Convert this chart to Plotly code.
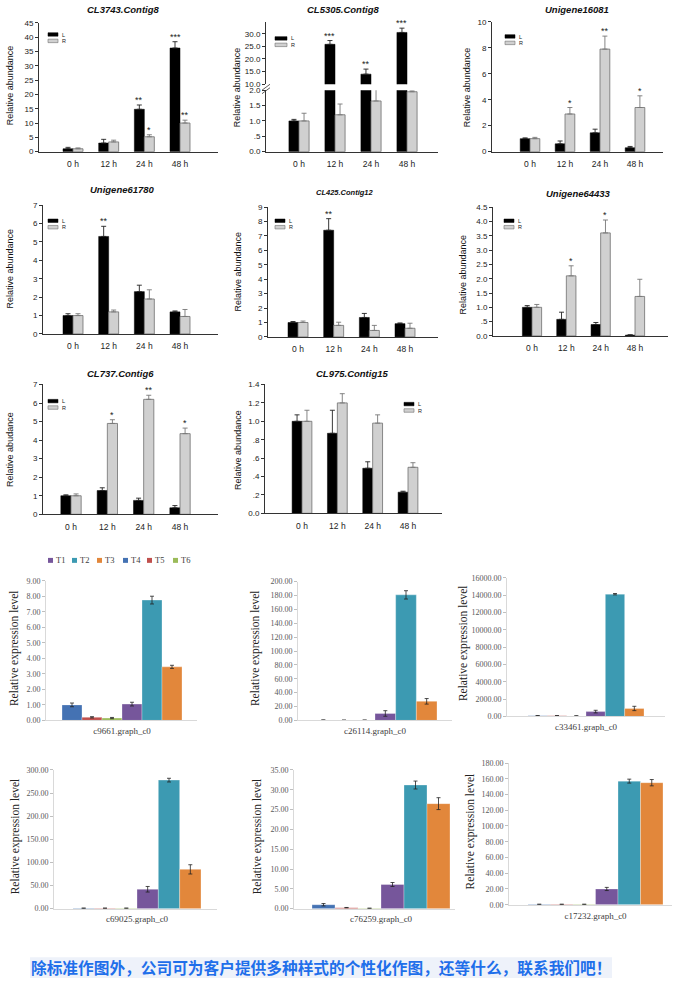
import plotly.graph_objects as go

W, H = 674, 987

# ---------------- data ----------------
time_labels = ["0 h", "12 h", "24 h", "48 h"]

cl3743_L = [1.0, 3.0, 14.8, 36.2]
cl3743_L_err = [0.5, 1.3, 1.5, 2.2]
cl3743_R = [1.0, 3.4, 5.2, 10.0]
cl3743_R_err = [0.3, 0.6, 0.7, 1.0]
cl3743_L_sig = ["", "", "**", "***"]
cl3743_R_sig = ["", "", "*", "**"]

cl5305_L = [1.0, 25.8, 14.0, 30.5]
cl5305_L_err = [0.05, 1.5, 2.0, 1.7]
cl5305_R = [1.0, 1.2, 1.65, 1.95]
cl5305_R_err = [0.25, 0.35, 0.45, 0.03]
cl5305_L_sig = ["", "***", "**", "***"]
cl5305_R_sig = ["", "", "", ""]

u16081_L = [1.0, 0.6, 1.45, 0.3]
u16081_L_err = [0.06, 0.22, 0.28, 0.1]
u16081_R = [1.0, 2.9, 7.9, 3.4]
u16081_R_err = [0.1, 0.5, 1.0, 0.9]
u16081_L_sig = ["", "", "", ""]
u16081_R_sig = ["", "*", "**", "*"]

u61780_L = [1.0, 5.3, 2.3, 1.2]
u61780_L_err = [0.1, 0.55, 0.35, 0.05]
u61780_R = [1.0, 1.2, 1.9, 0.95]
u61780_R_err = [0.1, 0.1, 0.5, 0.38]
u61780_L_sig = ["", "**", "", ""]
u61780_R_sig = ["", "", "", ""]

cl425_L = [1.0, 7.4, 1.35, 0.92]
cl425_L_err = [0.07, 0.8, 0.28, 0.05]
cl425_R = [1.0, 0.8, 0.45, 0.6]
cl425_R_err = [0.1, 0.22, 0.35, 0.35]
cl425_L_sig = ["", "**", "", ""]
cl425_R_sig = ["", "", "", ""]

u64433_L = [1.0, 0.58, 0.4, 0.03]
u64433_L_err = [0.06, 0.25, 0.07, 0.01]
u64433_R = [1.0, 2.1, 3.6, 1.38]
u64433_R_err = [0.1, 0.35, 0.45, 0.6]
u64433_L_sig = ["", "", "", ""]
u64433_R_sig = ["", "*", "*", ""]

cl737_L = [1.0, 1.28, 0.75, 0.35]
cl737_L_err = [0.05, 0.15, 0.12, 0.12]
cl737_R = [1.0, 4.9, 6.2, 4.35]
cl737_R_err = [0.1, 0.2, 0.22, 0.3]
cl737_L_sig = ["", "", "", ""]
cl737_R_sig = ["", "*", "**", "*"]

cl975_L = [1.0, 0.87, 0.49, 0.23]
cl975_L_err = [0.07, 0.25, 0.07, 0.01]
cl975_R = [1.0, 1.2, 0.98, 0.5]
cl975_R_err = [0.12, 0.1, 0.09, 0.05]
cl975_L_sig = ["", "", "", ""]
cl975_R_sig = ["", "", "", ""]

# bottom panels: bars drawn in order T4, T5, T6, T1, T2, T3
draw_order = ["T4", "T5", "T6", "T1", "T2", "T3"]
legend_order = ["T1", "T2", "T3", "T4", "T5", "T6"]

c9661_vals = [1.0, 0.2, 0.15, 1.05, 7.75, 3.45]
c9661_err = [0.12, 0.04, 0.04, 0.12, 0.25, 0.1]
c26114_vals = [0.5, 0.3, 0.4, 10.0, 181.0, 27.5]
c26114_err = [0.2, 0.1, 0.1, 4.0, 6.0, 4.0]
c33461_vals = [80, 80, 60, 560, 14100, 920]
c33461_err = [20, 20, 20, 150, 80, 250]
c69025_vals = [1.0, 1.0, 1.0, 42, 278, 85]
c69025_err = [0.3, 0.3, 0.3, 6, 4, 10]
c76259_vals = [1.0, 0.25, 0.1, 6.1, 31.2, 26.5]
c76259_err = [0.3, 0.05, 0.02, 0.5, 1.0, 1.5]
c17232_vals = [0.5, 0.5, 0.5, 20, 157, 155]
c17232_err = [0.2, 0.2, 0.2, 2, 2.5, 4]

footer_text = "除标准作图外，公司可为客户提供多种样式的个性化作图，还等什么，联系我们吧！"

# ---------------- styles ----------------
SANS = "Liberation Sans"
SERIF = "Liberation Serif"
t_colors = {"T1": "#76569B", "T2": "#3C9AB2", "T3": "#E2873B",
            "T4": "#4472B3", "T5": "#C0504D", "T6": "#9BBB59"}
BARGAP = 0.44

fig = go.Figure()
layout_axes = {}
ann = []
shapes = []
ax_n = [0]


def px2x(p):
    return p / W


def px2y(p):
    return 1 - p / H


def new_axes(xdom, ydom, xcfg, ycfg):
    ax_n[0] += 1
    n = ax_n[0]
    sx = "" if n == 1 else str(n)
    layout_axes["xaxis" + sx] = dict(domain=xdom, anchor="y" + sx, **xcfg)
    layout_axes["yaxis" + sx] = dict(domain=ydom, anchor="x" + sx, **ycfg)
    return "x" + sx, "y" + sx


def top_xcfg(pos, show=True):
    s = (pos["c3"] - pos["c0"]) / 3.0
    xr = [-(pos["c0"] - pos["left"]) / s, 3 + (pos["right"] - pos["c3"]) / s]
    return dict(range=xr, tickvals=[0, 1, 2, 3], ticktext=time_labels,
                showline=show, linecolor="#333", linewidth=1, ticks="",
                showticklabels=show, ticklabelstandoff=4,
                tickfont=dict(family=SANS, size=8.5, color="#222"),
                showgrid=False, zeroline=False, fixedrange=True)


def top_ycfg(yr, tv, tt):
    return dict(range=yr, tickvals=tv, ticktext=tt, showline=True,
                linecolor="#333", linewidth=1, ticks="outside", ticklen=3,
                tickcolor="#333", tickfont=dict(family=SANS, size=8, color="#222"),
                showgrid=False, zeroline=False, fixedrange=True)


def add_lr_bars(xa, ya, L, Le, R, Re):
    idx = [0, 1, 2, 3]
    fig.add_trace(go.Bar(x=idx, y=L, xaxis=xa, yaxis=ya, showlegend=False,
                         marker=dict(color="black", line=dict(color="black", width=0.5)),
                         error_y=dict(type="data", array=Le, arrayminus=[0] * 4,
                                      symmetric=False, color="#222", thickness=0.9, width=2.5)))
    fig.add_trace(go.Bar(x=idx, y=R, xaxis=xa, yaxis=ya, showlegend=False,
                         marker=dict(color="#D0D0D0", line=dict(color="#6E6E6E", width=0.8)),
                         error_y=dict(type="data", array=Re, arrayminus=[0] * 4,
                                      symmetric=False, color="#777", thickness=0.9, width=2.5)))


def add_stars(xa, ya, vals, errs, sigs, off):
    for i, s in enumerate(sigs):
        if s:
            ann.append(dict(x=i + off, y=vals[i] + errs[i], xref=xa, yref=ya, text=s,
                            showarrow=False, yanchor="bottom", yshift=-2,
                            font=dict(family=SANS, size=9, color="#222")))


def add_lr_legend(lx, ly, w=10):
    shapes.append(dict(type="rect", xref="paper", yref="paper",
                       x0=px2x(lx), x1=px2x(lx + w), y0=px2y(ly + 3.5), y1=px2y(ly),
                       fillcolor="black", line=dict(color="black", width=0.5)))
    shapes.append(dict(type="rect", xref="paper", yref="paper",
                       x0=px2x(lx), x1=px2x(lx + w), y0=px2y(ly + 10), y1=px2y(ly + 6.5),
                       fillcolor="#D0D0D0", line=dict(color="#6E6E6E", width=0.6)))
    for t, yy in (("L", ly + 1.8), ("R", ly + 8.3)):
        ann.append(dict(x=px2x(lx + w + 2), y=px2y(yy), xref="paper", yref="paper",
                        text=t, showarrow=False, xanchor="left", yanchor="middle",
                        font=dict(family=SANS, size=5.5, color="#222")))


def add_text(x, y, text, size, family=SANS, angle=0, color="#111"):
    ann.append(dict(x=px2x(x), y=px2y(y), xref="paper", yref="paper", text=text,
                    showarrow=False, textangle=angle, xanchor="center", yanchor="middle",
                    font=dict(family=family, size=size, color=color)))


def top_panel(title, ylabel, L, Le, R, Re, Ls, Rs, pos, yr, tv, tt, tsize=9.5):
    xa, ya = new_axes([px2x(pos["left"]), px2x(pos["right"])],
                      [px2y(pos["bottom"]), px2y(pos["top"])],
                      top_xcfg(pos), top_ycfg(yr, tv, tt))
    add_lr_bars(xa, ya, L, Le, R, Re)
    add_stars(xa, ya, L, Le, Ls, -0.14)
    add_stars(xa, ya, R, Re, Rs, 0.14)
    add_text(pos["tx"], pos["ty"], "<b><i>" + title + "</i></b>", tsize)
    add_text(pos["lx"], pos["ly"], ylabel, 9, angle=-90)
    add_lr_legend(*pos["leg"])


# Row 1
top_panel("CL3743.Contig8", "Relative abundance", cl3743_L, cl3743_L_err, cl3743_R,
          cl3743_R_err, cl3743_L_sig, cl3743_R_sig,
          dict(left=39, right=218, top=19, bottom=149, c0=73, c3=180,
               tx=123, ty=6, lx=10, ly=82, leg=(48, 29)),
          [0, 45], list(range(0, 46, 5)), [str(v) for v in range(0, 46, 5)])

# CL5305 broken axis
p2 = dict(left=266, right=438, c0=299, c3=407)
xa, ya = new_axes([px2x(266), px2x(438)], [px2y(149), px2y(87)], top_xcfg(p2),
                  top_ycfg([0, 2.0], [0, 0.5, 1.0, 1.5, 2.0], ["0.0", ".5", "1.0", "1.5", "2.0"]))
add_lr_bars(xa, ya, cl5305_L, cl5305_L_err, cl5305_R, cl5305_R_err)
xb, yb = new_axes([px2x(266), px2x(438)], [px2y(81), px2y(18)], top_xcfg(p2, show=False),
                  top_ycfg([10, 34.7], [10, 15, 20, 25, 30], ["10.0", "15.0", "20.0", "25.0", "30.0"]))
add_lr_bars(xb, yb, cl5305_L, cl5305_L_err, cl5305_R, cl5305_R_err)
add_stars(xb, yb, cl5305_L, cl5305_L_err, cl5305_L_sig, -0.14)
add_text(343, 6, "<b><i>CL5305.Contig8</i></b>", 9.5)
add_text(237, 84, "Relative abundance", 9, angle=-90)
add_lr_legend(275, 33, 12)
for dy in (0, 3.5):
    shapes.append(dict(type="line", xref="paper", yref="paper",
                       x0=px2x(262), x1=px2x(270), y0=px2y(87 + dy), y1=px2y(81 + dy),
                       line=dict(color="#333", width=0.8)))

top_panel("Unigene16081", "Relative abundance", u16081_L, u16081_L_err, u16081_R,
          u16081_R_err, u16081_L_sig, u16081_R_sig,
          dict(left=492, right=663, top=18, bottom=149, c0=530, c3=635,
               tx=577, ty=6, lx=467, ly=84, leg=(505, 31)),
          [0, 10], [0, 2, 4, 6, 8, 10], ["0", "2", "4", "6", "8", "10"])

# Row 2
top_panel("Unigene61780", "Relative abundance", u61780_L, u61780_L_err, u61780_R,
          u61780_R_err, u61780_L_sig, u61780_R_sig,
          dict(left=43, right=218, top=203, bottom=333, c0=73, c3=180,
               tx=122, ty=187, lx=10, ly=267, leg=(48, 217)),
          [0, 7], list(range(8)), [str(v) for v in range(8)])

top_panel("CL425.Contig12", "Relative abundance", cl425_L, cl425_L_err, cl425_R,
          cl425_R_err, cl425_L_sig, cl425_R_sig,
          dict(left=268, right=438, top=205, bottom=336, c0=298, c3=405,
               tx=345, ty=190, lx=238, ly=270, leg=(275, 217)),
          [0, 9], list(range(10)), [str(v) for v in range(10)], tsize=7.5)

top_panel("Unigene64433", "Relative abundance", u64433_L, u64433_L_err, u64433_R,
          u64433_R_err, u64433_L_sig, u64433_R_sig,
          dict(left=493, right=668, top=205, bottom=335, c0=532, c3=635,
               tx=578, ty=191, lx=463, ly=273, leg=(504, 217)),
          [0, 4.5], [0, 0.5, 1, 1.5, 2, 2.5, 3, 3.5, 4, 4.5],
          ["0.0", ".5", "1.0", "1.5", "2.0", "2.5", "3.0", "3.5", "4.0", "4.5"])

# Row 3
top_panel("CL737.Contig6", "Relative abudance", cl737_L, cl737_L_err, cl737_R,
          cl737_R_err, cl737_L_sig, cl737_R_sig,
          dict(left=43, right=218, top=384, bottom=515, c0=71, c3=180,
               tx=120, ty=373, lx=10, ly=450, leg=(48, 399)),
          [0, 7], list(range(8)), [str(v) for v in range(8)])

top_panel("CL975.Contig15", "Relative abundance", cl975_L, cl975_L_err, cl975_R,
          cl975_R_err, cl975_L_sig, cl975_R_sig,
          dict(left=265, right=442, top=384, bottom=514, c0=302, c3=408,
               tx=352, ty=373, lx=238, ly=450, leg=(404, 402)),
          [0, 1.4], [0, 0.2, 0.4, 0.6, 0.8, 1.0, 1.2, 1.4],
          ["0.0", ".2", ".4", ".6", ".8", "1.0", "1.2", "1.4"])


# ---------------- bottom (Excel style) panels ----------------
def bottom_panel(name, vals, errs, pos, ymax, dtick):
    k = (1 - BARGAP) / (pos["gr"] - pos["gl"])
    c = (pos["gl"] + pos["gr"]) / 2.0
    xr = [-(c - pos["left"]) * k, (pos["right"] - c) * k]
    xcfg = dict(type="linear", range=xr, tickvals=[0], ticktext=[name],
                showline=True, linecolor="#D9D9D9", linewidth=1, ticks="",
                ticklabelstandoff=2,
                tickfont=dict(family=SERIF, size=9, color="#404040"),
                showgrid=False, zeroline=False, fixedrange=True)
    ycfg = dict(range=[0, ymax], dtick=dtick, tick0=0, tickformat=".2f",
                showline=True, linecolor="#D9D9D9", linewidth=1,
                ticks="outside", ticklen=3, tickcolor="#BFBFBF",
                tickfont=dict(family=SERIF, size=8, color="#595959"),
                showgrid=False, zeroline=False, fixedrange=True)
    xa, ya = new_axes([px2x(pos["left"]), px2x(pos["right"])],
                      [px2y(pos["bottom"]), px2y(pos["top"])], xcfg, ycfg)
    for t, v, e in zip(draw_order, vals, errs):
        fig.add_trace(go.Bar(x=[0], y=[v], xaxis=xa, yaxis=ya, showlegend=False, name=t,
                             marker=dict(color=t_colors[t], line=dict(color="white", width=0.3)),
                             error_y=dict(type="data", array=[e], color="#222",
                                          thickness=0.8, width=2)))
    add_text(pos["lx"], pos["ly"], "Relative expression level", 11.5, family=SERIF,
             angle=-90, color="#222")


bottom_panel("c9661.graph_c0", c9661_vals, c9661_err,
             dict(left=46, right=197, top=582, bottom=723, gl=62, gr=182, lx=14, ly=650), 9, 1)
bottom_panel("c26114.graph_c0", c26114_vals, c26114_err,
             dict(left=298, right=452, top=583, bottom=723, gl=313, gr=437, lx=255, ly=650), 200, 20)
bottom_panel("c33461.graph_c0", c33461_vals, c33461_err,
             dict(left=507, right=665, top=579, bottom=719, gl=528, gr=644, lx=463, ly=645), 16000, 2000)
bottom_panel("c69025.graph_c0", c69025_vals, c69025_err,
             dict(left=54, right=217, top=773, bottom=913, gl=73, gr=201, lx=15, ly=840), 300, 50)
bottom_panel("c76259.graph_c0", c76259_vals, c76259_err,
             dict(left=294, right=455, top=773, bottom=913, gl=312, gr=450, lx=257, ly=840), 35, 5)
bottom_panel("c17232.graph_c0", c17232_vals, c17232_err,
             dict(left=509, right=672, top=766, bottom=909, gl=528, gr=663, lx=470, ly=835), 180, 20)

# shared T1..T6 legend
leg_x = [48, 72, 97, 123, 147, 173]
for t, lxp in zip(legend_order, leg_x):
    shapes.append(dict(type="rect", xref="paper", yref="paper",
                       x0=px2x(lxp), x1=px2x(lxp + 5), y0=px2y(564), y1=px2y(559),
                       fillcolor=t_colors[t], line=dict(width=0)))
    ann.append(dict(x=px2x(lxp + 6), y=px2y(561.5), xref="paper", yref="paper", text=t,
                    showarrow=False, xanchor="left", yanchor="middle",
                    font=dict(family=SERIF, size=8.5, color="#404040")))

# footer
shapes.append(dict(type="rect", xref="paper", yref="paper", layer="below",
                   x0=px2x(30), x1=px2x(612), y0=px2y(983), y1=px2y(962),
                   fillcolor="#EEF2FA", line=dict(width=0)))
ann.append(dict(x=px2x(321), y=px2y(972.5), xref="paper", yref="paper",
                text="<b>" + footer_text + "</b>", showarrow=False,
                xanchor="center", yanchor="middle",
                font=dict(family="Noto Sans CJK SC", size=15.7, color="#1F6FEA")))

fig.update_layout(width=W, height=H, margin=dict(l=0, r=0, t=0, b=0),
                  paper_bgcolor="white", plot_bgcolor="white",
                  barmode="group", bargap=BARGAP, bargroupgap=0,
                  showlegend=False, font=dict(family=SANS), hovermode=False,
                  annotations=ann, shapes=shapes, **layout_axes)

fig.write_html("out.html", config={"displayModeBar": False, "staticPlot": True},
               post_script="document.body.style.margin='0';document.body.style.padding='0';")
